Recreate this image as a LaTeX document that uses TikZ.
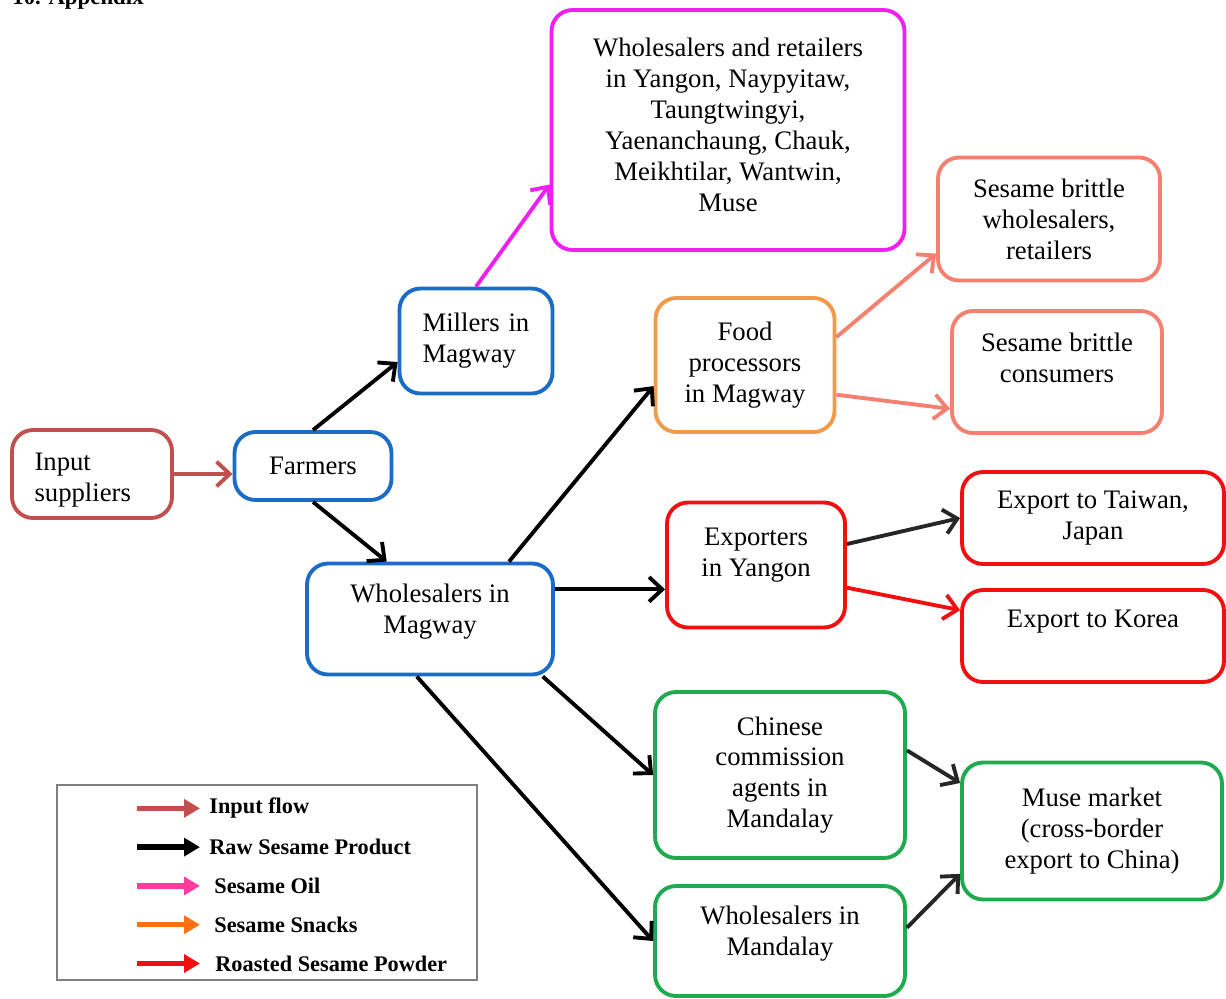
\documentclass[tikz,border=0pt]{standalone}
\usepackage{fontspec}
\setmainfont{Liberation Serif}
\usetikzlibrary{arrows.meta}

\definecolor{inbrown}{HTML}{C0504D}
\definecolor{chainblue}{HTML}{1A6CC6}
\definecolor{oilmagenta}{HTML}{F01EF0}
\definecolor{snackorange}{HTML}{F39A4A}
\definecolor{brittle}{HTML}{F5806F}
\definecolor{powderred}{HTML}{F01010}
\definecolor{chinagreen}{HTML}{1EAA4E}
\definecolor{darkflow}{HTML}{262626}
\definecolor{keypink}{HTML}{FF3C9E}
\definecolor{keyorange}{HTML}{FF7014}
\definecolor{keygray}{HTML}{7F7F7F}

\begin{document}
\begin{tikzpicture}[x=0.02cm, y=-0.02cm,
  box/.style={draw, rounded corners=0.42cm, line width=2.2pt, align=center,
    font=\fontsize{15.2}{17.6}\selectfont, inner sep=2pt},
  flow/.style={line width=2.2pt, -{Straight Barb[length=7.5pt,width=14pt,line width=2.2pt]}},
  keyarrow/.style={line width=3pt, -{Triangle[length=9pt,width=10pt]}},
  keytext/.style={anchor=west, inner sep=0pt, font=\bfseries\fontsize{12.7}{14}\selectfont}]

  \clip (0,0) rectangle (1226,998);

  % Header (cut off at the top)
  \node[anchor=base west, font=\bfseries\fontsize{13}{15}\selectfont, inner sep=0pt] (head) at (12,4) {10. Appendix};

  % Start of the chain
  \node[box, draw=inbrown, minimum width=3.2cm, minimum height=1.76cm, text width=2.3cm, align=left, text depth=14pt] (input) at (92,474) {Input\\suppliers};
  \node[box, draw=chainblue, minimum width=3.14cm, minimum height=1.36cm] (farm) at (313,466) {Farmers};
  \node[box, draw=chainblue, minimum width=3.06cm, minimum height=2.1cm, text width=2.14cm, align=left] (mill) at (476,341) {Millers in\\Magway};
  \node[box, draw=chainblue, minimum width=4.92cm, minimum height=2.22cm, text depth=12pt] (wmag) at (430,619) {Wholesalers in\\Magway};

  % Oil and snacks
  \node[box, draw=oilmagenta, minimum width=7.06cm, minimum height=4.8cm, text depth=6pt] (wr) at (728,130)
    {Wholesalers and retailers\\in Yangon, Naypyitaw,\\Taungtwingyi,\\Yaenanchaung, Chauk,\\Meikhtilar, Wantwin,\\Muse};
  \node[box, draw=snackorange, minimum width=3.58cm, minimum height=2.68cm] (food) at (745,365) {Food\\processors\\in Magway};
  \node[box, draw=brittle, minimum width=4.44cm, minimum height=2.46cm] (bw) at (1049,219) {Sesame brittle\\wholesalers,\\retailers};
  \node[box, draw=brittle, minimum width=4.2cm, minimum height=2.44cm, text depth=16pt] (bc) at (1057,372) {Sesame brittle\\consumers};

  % Exports
  \node[box, draw=powderred, minimum width=3.56cm, minimum height=2.5cm, text depth=15pt] (exp) at (756,565) {Exporters\\in Yangon};
  \node[box, draw=powderred, minimum width=5.24cm, minimum height=1.84cm] (tw) at (1093,518) {Export to Taiwan,\\Japan};
  \node[box, draw=powderred, minimum width=5.24cm, minimum height=1.84cm, text depth=20pt] (kor) at (1093,636) {Export to Korea};

  % Mandalay and Muse
  \node[box, draw=chinagreen, minimum width=5cm, minimum height=3.32cm] (chin) at (780,775) {Chinese\\commission\\agents in\\Mandalay};
  \node[box, draw=chinagreen, minimum width=5cm, minimum height=2.2cm, text depth=12pt] (wmand) at (780,941) {Wholesalers in\\Mandalay};
  \node[box, draw=chinagreen, minimum width=5.2cm, minimum height=2.74cm] (muse) at (1092,831) {Muse market\\(cross-border\\export to China)};

  % Connections
  \draw[flow, inbrown] (input.east) -- (input.east -| farm.west);
  \draw[flow] (farm.north) -- (mill.195);
  \draw[flow] (farm.south) -- (wmag.127);
  \draw[flow, oilmagenta] (mill.north) -- (wr.197);
  \draw[flow] (wmag.36) -- (food.193);
  \draw[flow] (exp.195 -| wmag.east) -- (exp.195);
  \draw[flow] (wmag.-27) -- (chin.west);
  \draw[flow] (wmag.257) -- (wmand.west);
  \draw[flow, brittle] (food.17) -- (bw.197);
  \draw[flow, brittle] (food.-18) -- (bc.199);
  \draw[flow, darkflow] (exp.13) -- (tw.west);
  \draw[flow, powderred] (exp.-14) -- (kor.169);
  \draw[flow, darkflow] (chin.11) -- (muse.160);
  \draw[flow, darkflow] (wmand.6) -- (muse.198);

  % Legend
  \node[draw=keygray, line width=0.9pt, minimum width=8.4cm, minimum height=3.9cm] (legend) at (267,882.5) {};
  \foreach \c/\t/\tx [count=\i] in {inbrown/Input flow/209, black/Raw Sesame Product/209,
      keypink/Sesame Oil/214, keyorange/Sesame Snacks/214, powderred/Roasted Sesame Powder/215} {
    \coordinate (key-\i-a) at (137,769.5+\i*38.8);
    \coordinate (key-\i-b) at (200,769.5+\i*38.8);
    \draw[keyarrow, \c] (key-\i-a) -- (key-\i-b);
    \node[keytext] (key-\i) at (\tx,769.5+\i*38.8) {\t};
  }
\end{tikzpicture}
\end{document}
